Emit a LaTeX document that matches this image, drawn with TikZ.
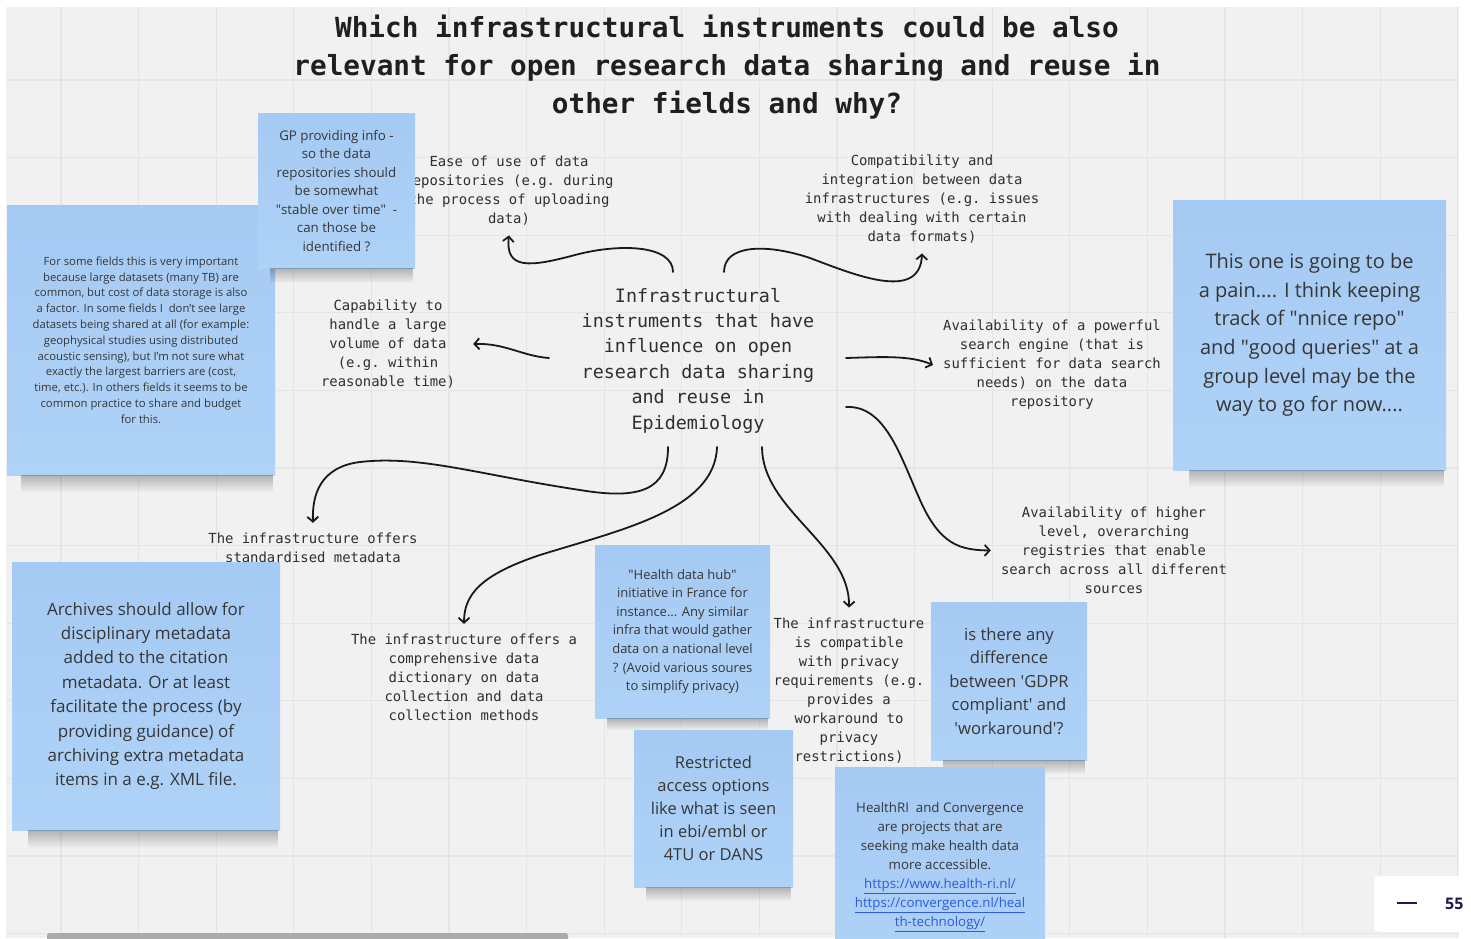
\documentclass[tikz,border=0pt]{standalone}
\usepackage{fontspec}
\setmainfont{Open Sans}
\setmonofont{DejaVu Sans Mono}
\usetikzlibrary{arrows.meta,fadings}

\definecolor{board}{HTML}{F1F1F1}
\definecolor{gridline}{HTML}{E5E5E5}
\definecolor{stickytop}{HTML}{A5CAF3}
\definecolor{stickybot}{HTML}{AFD2F7}
\definecolor{ink}{HTML}{2F2F2F}
\definecolor{notetext}{HTML}{363636}
\definecolor{linkblue}{HTML}{2D5BDD}
\definecolor{navy}{HTML}{1C1C4C}

\begin{document}
\begin{tikzpicture}[
  x=1pt, y=-1pt,
  headline/.style={font=\ttfamily\bfseries\fontsize{27.7}{38}\selectfont,align=center,text=black!88},
  idea/.style={font=\ttfamily\fontsize{13.9}{19}\selectfont,align=center,text=ink,inner sep=10pt},
  sticky/.style={rectangle,top color=stickytop,bottom color=stickybot,align=center,text=notetext,inner sep=0pt},
  noteshadow/.style={fill=black,opacity=.26,path fading=south},
  arr/.style={line width=1.8pt,black!90,line cap=round,-{Straight Barb[length=5pt,width=11pt]}}
]
  \useasboundingbox (0,0) rectangle (1471,938);
  \fill[white] (0,0) rectangle (1471,938);
  \fill[board] (6,7) rectangle (1459,938);
  \foreach \gx in {61,138.6,...,1459} \draw[gridline,line width=1.2pt] (\gx,7) -- (\gx,938);
  \foreach \gy in {80,157.6,...,938} \draw[gridline,line width=1.2pt] (6,\gy) -- (1459,\gy);

  \node[headline] (title) at (727,67) {Which infrastructural instruments could be also\\relevant for open research data sharing and reuse in\\other fields and why?};

  \node[idea,font=\ttfamily\fontsize{18.4}{25.4}\selectfont] (hub) at (698,360.5)
    {Infrastructural\\instruments that have\\influence on open\\research data sharing\\and reuse in\\Epidemiology};

  \node[idea] (ease) at (509,190.5) {Ease of use of data\\repositories (e.g. during\\the process of uploading\\data)};
  \node[idea] (compat) at (922,199) {Compatibility and\\integration between data\\infrastructures (e.g. issues\\with dealing with certain\\data formats)};
  \node[idea] (capab) at (388,344) {Capability to\\handle a large\\volume of data\\(e.g. within\\reasonable time)};
  \node[idea] (search) at (1052,365) {Availability of a powerful\\search engine (that is\\sufficient for data search\\needs) on the data\\repository};
  \node[idea] (std) at (313,548) {The infrastructure offers\\standardised metadata};
  \node[idea] (dict) at (464,677.5) {The infrastructure offers a\\comprehensive data\\dictionary on data\\collection and data\\collection methods};
  \node[idea] (privacy) at (849,690.5) {The infrastructure\\is compatible\\with privacy\\requirements (e.g.\\provides a\\workaround to\\privacy\\restrictions)};
  \node[idea] (registry) at (1114,550.5) {Availability of higher\\level, overarching\\registries that enable\\search across all different\\sources};

  % free ends of the hand drawn arrows
  \coordinate (a1) at (673,272);
  \coordinate (a2) at (724,272);
  \coordinate (a3) at (549,358);
  \coordinate (a4) at (846,358);
  \coordinate (a5) at (846,407);
  \coordinate (a6) at (668,447);
  \coordinate (a7) at (717,447);
  \coordinate (a8) at (762,447);

  \draw[arr] (a1) .. controls (673,245) and (620,243) .. (575,255) .. controls (530,267) and (505,270) .. (ease.south);
  \draw[arr] (a2) .. controls (724,245) and (765,243) .. (810,258) .. controls (855,275) and (920,302) .. (compat.south);
  \draw[arr] (a3) .. controls (522,356) and (505,343) .. ([xshift=8pt]capab.east);
  \draw[arr] (a4) .. controls (880,357) and (910,355) .. (search.west);
  \draw[arr] (a5) .. controls (885,405) and (900,455) .. (920,500) .. controls (940,545) and (960,550) .. (registry.west);
  \draw[arr] (a6) .. controls (668,490) and (640,500) .. (580,490) .. controls (480,475) and (420,455) .. (360,462) .. controls (320,467) and (312,495) .. (std.north);
  \draw[arr] (a7) .. controls (715,510) and (620,530) .. (540,555) .. controls (480,575) and (464,595) .. (dict.north);
  \draw[arr] (a8) .. controls (762,510) and (850,545) .. (privacy.north);

  % sticky notes
  \node[sticky,minimum width=268pt,minimum height=270pt,font=\fontsize{11.3}{15.8}\selectfont] (fields) at (141,340)
    {For some fields this is very important\\because large datasets (many TB) are\\common, but cost of data storage is also\\a factor. In some fields I\ \ don't see large\\datasets being shared at all (for example:\\geophysical studies using distributed\\acoustic sensing), but I'm not sure what\\exactly the largest barriers are (cost,\\time, etc.). In others fields it seems to be\\common practice to share and budget\\for this.};
  \fill[noteshadow] ([xshift=14pt]fields.south west) rectangle ([xshift=-2pt,yshift=-17pt]fields.south east);

  \node[sticky,minimum width=157pt,minimum height=155pt,font=\fontsize{13.3}{18.5}\selectfont] (gp) at (336.5,190.5)
    {GP providing info -\\so the data\\repositories should\\be somewhat\\\textquotedbl stable over time\textquotedbl\ \ -\\can those be\\identified ?};
  \fill[noteshadow] ([xshift=12pt]gp.south west) rectangle ([xshift=-2pt,yshift=-15pt]gp.south east);

  \node[sticky,minimum width=273pt,minimum height=270pt,font=\fontsize{20}{28.6}\selectfont] (pain) at (1309.5,335)
    {This one is going to be\\a pain.... I think keeping\\track of \textquotedbl nnice repo\textquotedbl\\and \textquotedbl good queries\textquotedbl\ at a\\group level may be the\\way to go for now....};
  \fill[noteshadow] ([xshift=16pt]pain.south west) rectangle ([xshift=-2pt,yshift=-17pt]pain.south east);

  \node[sticky,minimum width=268pt,minimum height=268pt,font=\fontsize{17}{24.4}\selectfont] (archives) at (146,696)
    {Archives should allow for\\disciplinary metadata\\added to the citation\\metadata. Or at least\\facilitate the process (by\\providing guidance) of\\archiving extra metadata\\items in a e.g. XML file.};
  \fill[noteshadow] ([xshift=16pt]archives.south west) rectangle ([xshift=-2pt,yshift=-18pt]archives.south east);

  \node[sticky,minimum width=175pt,minimum height=173pt,font=\fontsize{13}{18.6}\selectfont] (hubfr) at (682.5,631.5)
    {\textquotedbl Health data hub\textquotedbl\\initiative in France for\\instance... Any similar\\infra that would gather\\data on a national level\\? (Avoid various soures\\to simplify privacy)};
  \fill[noteshadow] ([xshift=12pt]hubfr.south west) rectangle ([xshift=-2pt,yshift=-12pt]hubfr.south east);

  \node[sticky,minimum width=159pt,minimum height=157pt,font=\fontsize{16.5}{23}\selectfont] (restrict) at (713.5,808.5)
    {Restricted\\access options\\like what is seen\\in ebi/embl or\\4TU or DANS};
  \fill[noteshadow] ([xshift=12pt]restrict.south west) rectangle ([xshift=-2pt,yshift=-14pt]restrict.south east);

  \node[sticky,minimum width=156pt,minimum height=158pt,font=\fontsize{16.6}{23.5}\selectfont] (gdpr) at (1009,681)
    {is there any\\difference\\between \textquotesingle GDPR\\compliant\textquotesingle\ and\\\textquotesingle workaround\textquotesingle ?};
  \fill[noteshadow] ([xshift=12pt]gdpr.south west) rectangle ([xshift=-2pt,yshift=-14pt]gdpr.south east);

  \node[sticky,minimum width=210pt,minimum height=200pt,font=\fontsize{13.3}{19}\selectfont] (healthri) at (940,867)
    {HealthRI\ \ and Convergence\\are projects that are\\seeking make health data\\more accessible.\\{\color{linkblue}\underline{https://www.health-ri.nl/}}\\{\color{linkblue}\underline{https://convergence.nl/heal}}\\{\color{linkblue}\underline{th-technology/}}};

  % zoom widget and scroll bar of the board
  \fill[white,rounded corners=5pt] (1374,876) rectangle (1495,932);
  \draw[navy,line width=2.6pt] (1397,903) -- (1417,903);
  \node[anchor=west,inner sep=0pt,text=navy,font=\fontsize{16}{18}\selectfont\bfseries] (zoomval) at (1445,904) {55};
  \fill[black!33,rounded corners=2.5pt] (47,933) rectangle (568,944);
\end{tikzpicture}
\end{document}
